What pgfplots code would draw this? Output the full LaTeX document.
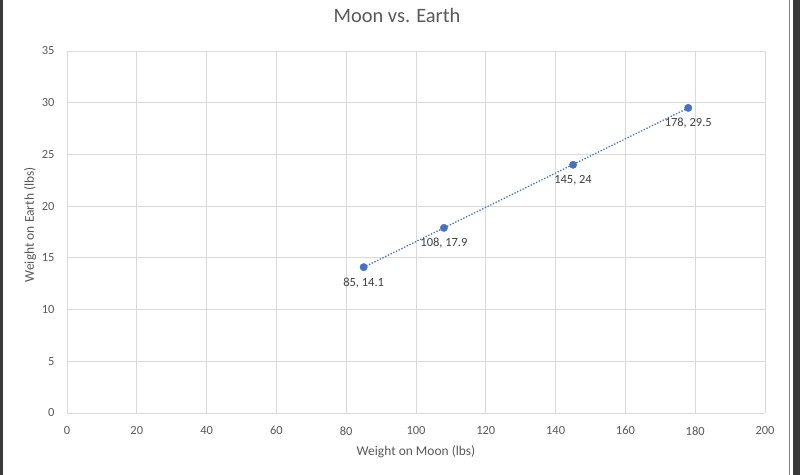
\documentclass[border=0pt]{standalone}
\usepackage{pgfplots}
\pgfplotsset{compat=1.18}
\usepackage{pgfplotstable}
\usepackage{fontspec}
\setmainfont{Carlito}
\definecolor{xlblue}{HTML}{4472C4}
\definecolor{txtgray}{HTML}{595959}
\definecolor{lblgray}{HTML}{404040}
\definecolor{gridgray}{HTML}{D9D9D9}
\definecolor{axgray}{HTML}{BFBFBF}
\definecolor{framedark}{HTML}{3A3A3A}
\pgfplotstableread{
x y lab
85 14.1 {85, 14.1}
108 17.9 {108, 17.9}
145 24 {145, 24}
178 29.5 {178, 29.5}
}\moondata
\pgfplotstableread{
x y
85 14.09
178 29.49
}\trend
\begin{document}
\begin{tikzpicture}
\useasboundingbox[fill=white] (0,0) rectangle (800bp,475bp);
\begin{axis}[
  at={(67bp,62bp)}, anchor=south west,
  scale only axis, width=698bp, height=362bp,
  xmin=0, xmax=200, ymin=0, ymax=35,
  xtick={0,20,...,200}, ytick={0,5,...,35},
  grid=major,
  major grid style={color=gridgray, line width=0.75bp},
  axis line style={draw=none},
  major tick length=0pt,
  extra y ticks={0}, extra y tick labels={},
  extra y tick style={grid style={color=axgray, line width=1bp}},
  /pgf/number format/assume math mode=true,
  ticklabel style={font=\fontsize{12.5}{14}\selectfont, text=txtgray},
  yticklabel style={xshift=-9bp},
  xticklabel style={yshift=-10bp},
  title={Moon vs. Earth},
  title style={font=\fontsize{20.5}{23}\selectfont, text=txtgray, anchor=center, at={(axis description cs:0.5,1)}, yshift=30bp, xshift=-19bp},
  xlabel={Weight on Moon (lbs)},
  xlabel style={font=\fontsize{13.5}{15}\selectfont, text=txtgray, anchor=center, at={(axis description cs:0.5,0)}, yshift=-39bp},
  ylabel={Weight on Earth (lbs)},
  ylabel style={font=\fontsize{13.5}{15}\selectfont, text=txtgray, anchor=center, at={(axis description cs:-0.053,0.52)}},
  clip=false,
]
\addplot[color=xlblue, line width=1.3bp, dash pattern=on 1.3bp off 1.7bp, no marks] table[x=x,y=y] {\trend};
\addplot[only marks, mark=*, mark size=3.7bp, mark options={fill=xlblue, draw=xlblue},
  nodes near coords, point meta=explicit symbolic,
  nodes near coords style={anchor=north, yshift=-7bp, font=\fontsize{12.5}{14}\selectfont, text=lblgray}]
  table[x=x,y=y,meta=lab] {\moondata};
\end{axis}
\fill[framedark] (0,0) rectangle (2.5bp,475bp);
\fill[framedark] (793bp,0) rectangle (800bp,475bp);
\fill[gray] (788.5bp,0) rectangle (790bp,475bp);
\end{tikzpicture}
\end{document}
